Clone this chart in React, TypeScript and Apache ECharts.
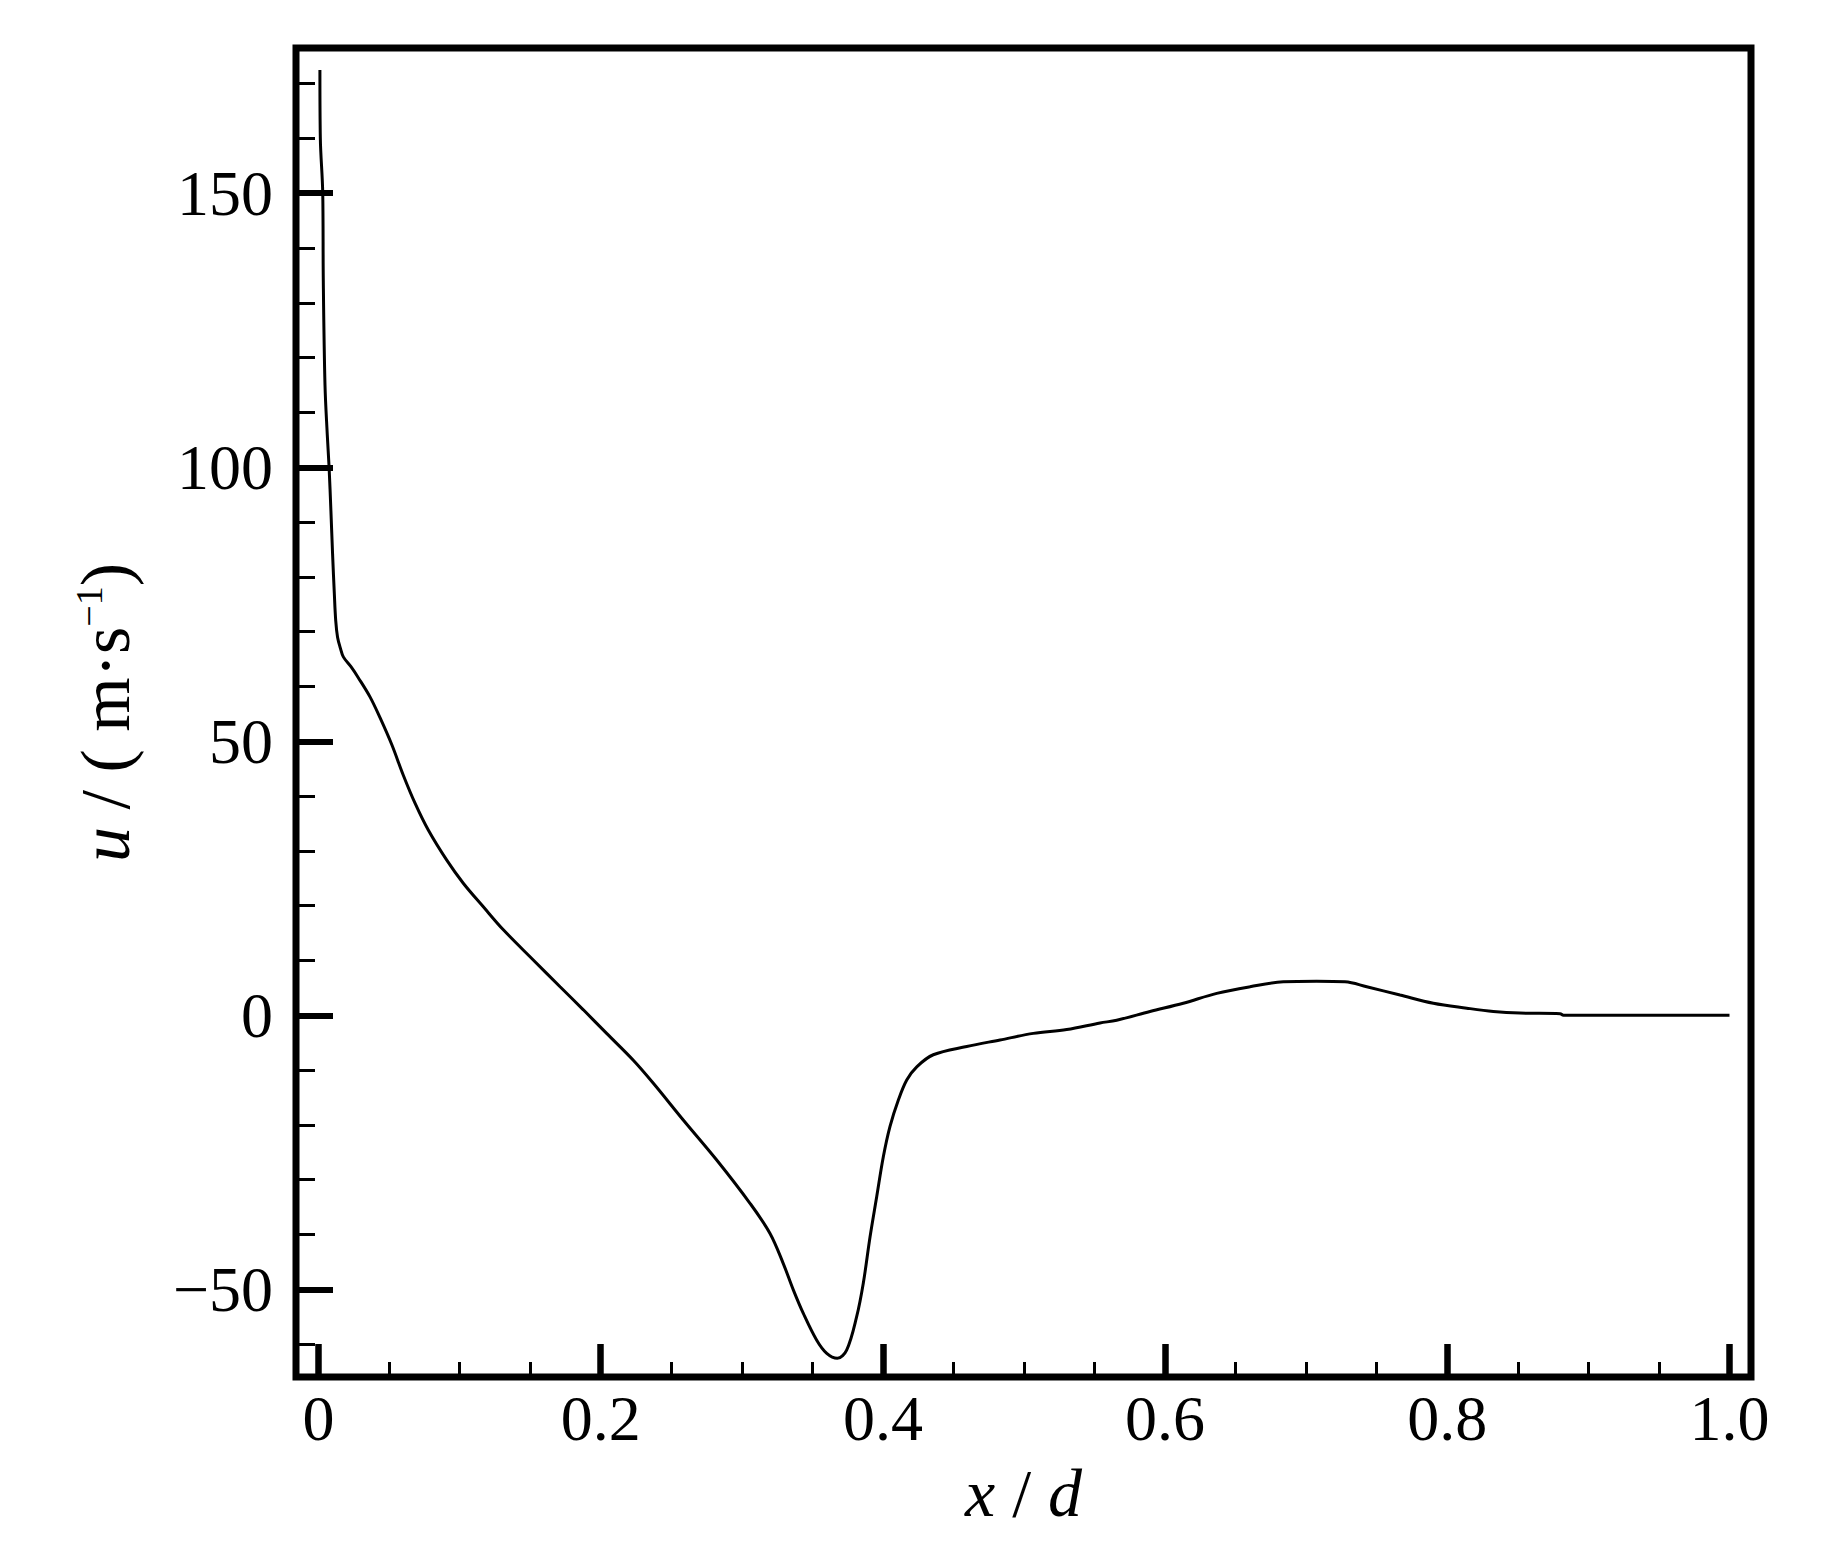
import React, { useEffect, useRef } from "react";
import * as echarts from "echarts";

// x / d positions along the line
const xPositions = [
  0.001, 0.0013, 0.003, 0.0034, 0.0046, 0.0062, 0.0075, 0.0088, 0.01, 0.0112,
  0.0122, 0.0135, 0.0155, 0.0176, 0.023, 0.0282, 0.0365, 0.0436, 0.0519, 0.0601,
  0.0684, 0.0778, 0.0909, 0.1026, 0.1168, 0.131, 0.1522, 0.1712, 0.1877, 0.2042,
  0.2231, 0.2373, 0.2585, 0.2822, 0.3058, 0.32, 0.3294, 0.3365, 0.3436, 0.3531,
  0.3602, 0.3677, 0.3743, 0.3814, 0.3861, 0.3909, 0.3956, 0.4003, 0.405, 0.4109,
  0.4169, 0.424, 0.4357, 0.4594, 0.483, 0.5066, 0.5303, 0.5539, 0.5657, 0.5893,
  0.6129, 0.6366, 0.6602, 0.6838, 0.7074, 0.7275, 0.7429, 0.7665, 0.7901, 0.8138,
  0.8326, 0.8515, 0.88, 0.8823, 1.0,
];

// u / (m·s^-1) velocities
const velocities = [
  172.5, 160, 150, 134, 115, 106, 100, 92, 84, 77,
  72, 69, 67, 65.4, 63.6, 61.6, 58.1, 54.3, 49.4, 43.8,
  38.7, 33.8, 28.3, 24.1, 19.8, 15.6, 10.1, 5.2, 1.0, -3.3,
  -8.2, -12.4, -19.1, -26.4, -34.3, -39.8, -45.3, -50.1, -54.4, -59.3,
  -61.7, -62.6, -61.1, -55.0, -48.9, -40.4, -33.1, -25.8, -20.3, -15.5,
  -11.8, -9.4, -7.2, -5.7, -4.5, -3.3, -2.6, -1.4, -0.9, 0.7,
  2.2, 4.0, 5.2, 6.1, 6.2, 6.1, 5.2, 3.7, 2.2, 1.3,
  0.7, 0.4, 0.3, 0, 0,
];

const yMajorTicks = [-50, 0, 50, 100, 150];
const yMinorTicks = [
  -60, -40, -30, -20, -10, 10, 20, 30, 40, 60, 70, 80, 90, 110, 120, 130, 140, 160, 170,
];
const xMajorTicks = [0, 0.2, 0.4, 0.6, 0.8, 1.0];
const xMinorTicks = [
  0.05, 0.1, 0.15, 0.25, 0.3, 0.35, 0.45, 0.5, 0.55, 0.65, 0.7, 0.75, 0.85, 0.9, 0.95,
];

const X_MIN = -0.01595;
const X_MAX = 1.01524;
const Y_MIN = -66.0;
const Y_MAX = 176.5;

const FONT = "'Liberation Serif', 'Times New Roman', serif";

export default function App() {
  const ref = useRef<HTMLDivElement>(null);

  useEffect(() => {
    if (!ref.current) return;
    const chart = echarts.init(ref.current, undefined, { renderer: "svg" });
    const data = xPositions.map((x, i) => [x, velocities[i]]);

    const option: any = {
      animation: false,
      backgroundColor: "#fff",
      grid: {
        left: 296,
        top: 48,
        width: 1455,
        height: 1329,
        show: true,
        borderColor: "#000",
        borderWidth: 7,
        backgroundColor: "transparent",
      },
      xAxis: [
        {
          type: "value",
          min: X_MIN,
          max: X_MAX,
          position: "bottom",
          axisLine: { show: false, onZero: false },
          splitLine: { show: false },
          axisTick: {
            show: true,
            inside: true,
            length: 33,
            lineStyle: { color: "#000", width: 6.5 },
            customValues: xMajorTicks,
          },
          axisLabel: {
            show: true,
            margin: 9,
            fontFamily: FONT,
            fontSize: 64,
            color: "#000",
            customValues: xMajorTicks,
            formatter: (v: number) => (Math.abs(v) < 1e-9 ? "0" : v.toFixed(1)),
          },
          name: "{i|x} / {i|d}",
          nameLocation: "middle",
          nameGap: 82,
          nameTextStyle: {
            fontFamily: FONT,
            fontSize: 68,
            color: "#000",
            rich: {
              i: { fontFamily: FONT, fontSize: 68, fontStyle: "italic", color: "#000" },
            },
          },
        },
        {
          type: "value",
          min: X_MIN,
          max: X_MAX,
          position: "bottom",
          axisLine: { show: false, onZero: false },
          splitLine: { show: false },
          axisTick: {
            show: true,
            inside: true,
            length: 15,
            lineStyle: { color: "#000", width: 3 },
            customValues: xMinorTicks,
          },
          axisLabel: { show: false },
        },
      ],
      yAxis: [
        {
          type: "value",
          min: Y_MIN,
          max: Y_MAX,
          position: "left",
          axisLine: { show: false, onZero: false },
          splitLine: { show: false },
          axisTick: {
            show: true,
            inside: true,
            length: 37,
            lineStyle: { color: "#000", width: 6 },
            customValues: yMajorTicks,
          },
          axisLabel: {
            show: true,
            margin: 23,
            fontFamily: FONT,
            fontSize: 64,
            color: "#000",
            customValues: yMajorTicks,
            formatter: (v: number) => (v < 0 ? "\u2212" + Math.abs(v) : String(v)),
          },
          name: "{i|u} / ( m\u00b7s{sup|\u22121})",
          nameLocation: "middle",
          nameRotate: 90,
          nameGap: 156,
          nameTextStyle: {
            fontFamily: FONT,
            fontSize: 70,
            lineHeight: 70,
            color: "#000",
            rich: {
              i: { fontFamily: FONT, fontSize: 70, lineHeight: 70, fontStyle: "italic", color: "#000" },
              sup: { fontFamily: FONT, fontSize: 38, lineHeight: 38, verticalAlign: "top", color: "#000" },
            },
          },
        },
        {
          type: "value",
          min: Y_MIN,
          max: Y_MAX,
          position: "left",
          axisLine: { show: false, onZero: false },
          splitLine: { show: false },
          axisTick: {
            show: true,
            inside: true,
            length: 19,
            lineStyle: { color: "#000", width: 3 },
            customValues: yMinorTicks,
          },
          axisLabel: { show: false },
        },
      ],
      series: [
        {
          type: "line",
          xAxisIndex: 0,
          yAxisIndex: 0,
          data,
          showSymbol: false,
          symbol: "none",
          smooth: 0.35,
          lineStyle: { color: "#000", width: 3 },
          clip: true,
        },
      ],
    };

    chart.setOption(option);
    return () => chart.dispose();
  }, []);

  return (
    <div
      ref={ref}
      style={{ position: "absolute", left: 0, top: 0, width: 1821, height: 1554 }}
    />
  );
}
